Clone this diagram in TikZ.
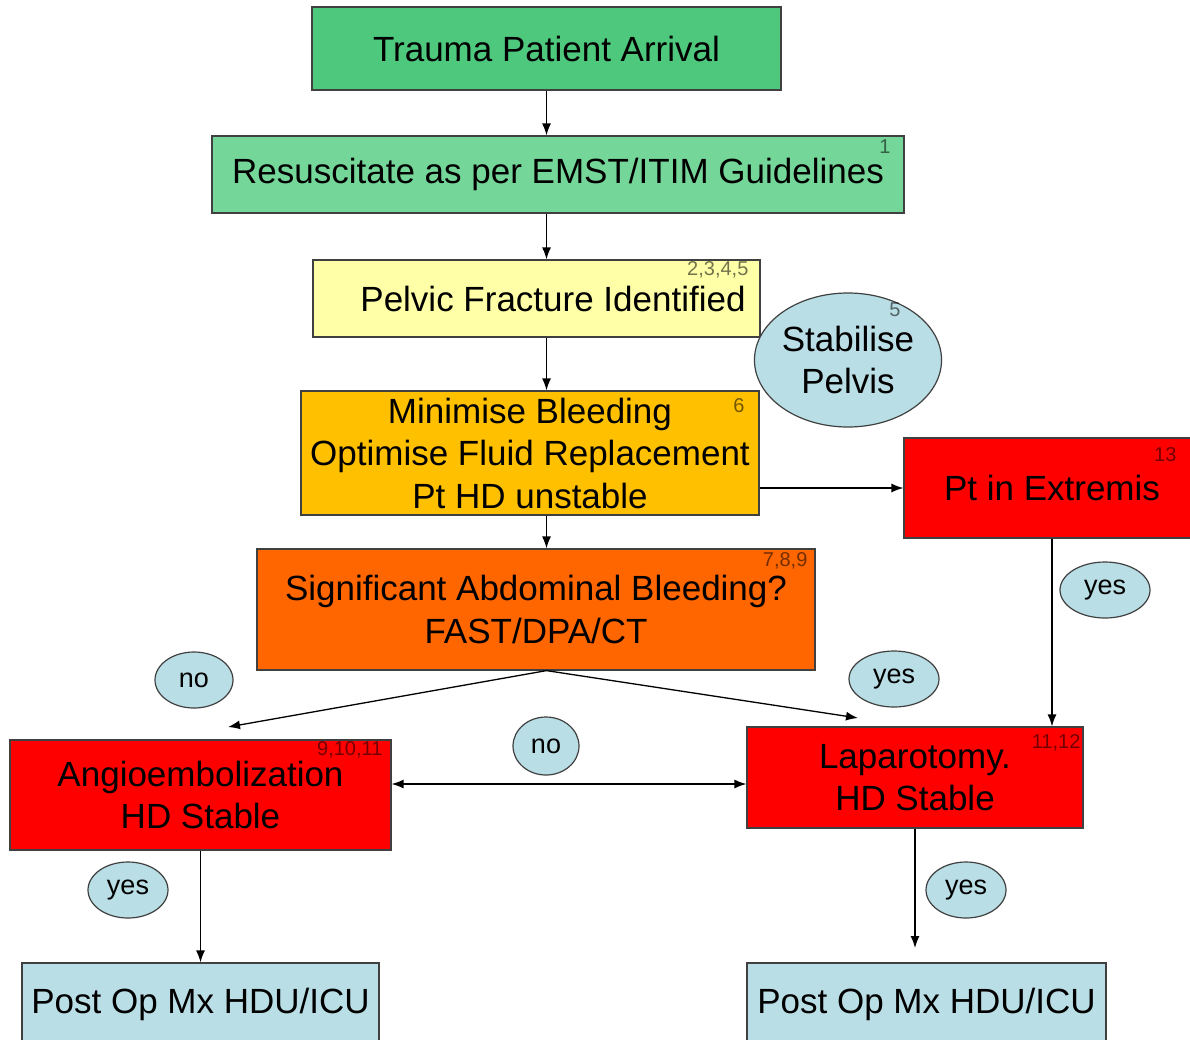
\documentclass[tikz,border=0pt]{standalone}
\usepackage{fontspec}
\setmainfont{Liberation Sans}
\usetikzlibrary{calc}
\usetikzlibrary{positioning}
\usetikzlibrary{shapes.geometric}
\usetikzlibrary{arrows.meta}
\definecolor{arrivalGreen}{RGB}{78,200,124}
\definecolor{resusGreen}{RGB}{116,214,152}
\definecolor{pelvicYellow}{RGB}{255,255,168}
\definecolor{bleedGold}{RGB}{255,192,0}
\definecolor{abdoOrange}{RGB}{255,102,0}
\definecolor{urgentRed}{RGB}{255,0,0}
\definecolor{tagBlue}{RGB}{185,222,230}
\tikzstyle{flownode} = [draw=black!75, line width=1.2pt, rectangle, inner sep=0pt, align=center, font=\fontsize{35}{42.5}\selectfont]
\tikzstyle{tagnode} = [draw=black!75, line width=1.2pt, ellipse, fill=tagBlue, inner sep=0pt, font=\fontsize{27}{30}\selectfont]
\tikzstyle{refnum} = [inner sep=0pt, anchor=north east, text opacity=0.55, font=\fontsize{20}{20}\selectfont]
\tikzstyle{flowarrow} = [-{Latex[length=12pt,width=9pt]}, line width=1.3pt]

\begin{document}
\begin{tikzpicture}[x=1pt, y=-1pt]
    \useasboundingbox (0,0) rectangle (1190,1039);

    \node[flownode, fill=arrivalGreen, minimum width=469pt, minimum height=83pt] (arrival) at (546.5,48.5) {Trauma Patient Arrival};
    \node[flownode, fill=resusGreen, minimum width=692pt, minimum height=77pt] (resus) at ($(arrival)+(11.5,126)$) {Resuscitate as per EMST/ITIM Guidelines};
    \node[flownode, fill=pelvicYellow, minimum width=447pt, minimum height=77pt] (pelvic) at ($(resus)+(-21.5,124)$) {\hspace*{33pt}Pelvic Fracture Identified};
    \node[flownode, ellipse, fill=tagBlue, minimum width=180pt, minimum height=134pt] (stabilise) at ($(pelvic)+(311.5,61.5)$) {Stabilise\\Pelvis};
    \node[flownode, fill=bleedGold, minimum width=458pt, minimum height=124pt] (minimise) at ($(pelvic)+(-6.5,154.5)$) {Minimise Bleeding\\Optimise Fluid Replacement\\Pt HD unstable};
    \node[flownode, fill=urgentRed, minimum width=296pt, minimum height=100pt] (extremis) at ($(minimise)+(522,35)$) {Pt in Extremis};
    \node[flownode, fill=abdoOrange, minimum width=558pt, minimum height=121pt] (significant) at ($(minimise)+(6,156.5)$) {Significant Abdominal Bleeding?\\FAST/DPA/CT};
    \node[flownode, fill=urgentRed, minimum width=381pt, minimum height=110pt] (angio) at ($(significant)+(-335.5,185.5)$) {Angioembolization\\HD Stable};
    \node[flownode, fill=urgentRed, minimum width=336pt, minimum height=101pt] (lap) at ($(significant)+(379,168)$) {Laparotomy.\\HD Stable};
    \node[flownode, fill=tagBlue, minimum width=357pt, minimum height=82pt] (postL) at ($(angio)+(0,209)$) {Post Op Mx HDU/ICU};
    \node[flownode, fill=tagBlue, minimum width=359pt, minimum height=82pt] (postR) at ($(lap)+(11.5,226.5)$) {Post Op Mx HDU/ICU};

    % reference numbers
    \node[refnum] (resus_ref) at ($(resus.north east)+(-14,4)$) {1};
    \node[refnum] (pelvic_ref) at ($(pelvic.north east)+(-12,2)$) {2,3,4,5};
    \node[refnum, anchor=center] (stabilise_ref) at ($(stabilise)+(47,-50)$) {5};
    \node[refnum] (minimise_ref) at ($(minimise.north east)+(-15,8)$) {6};
    \node[refnum] (extremis_ref) at ($(extremis.north east)+(-24,10)$) {13};
    \node[refnum] (significant_ref) at ($(significant.north east)+(-8,4)$) {7,8,9};
    \node[refnum] (angio_ref) at ($(angio.north east)+(-9,2)$) {9,10,11};
    \node[refnum] (lap_ref) at ($(lap.north east)+(-3,8)$) {11,12};

    % yes / no tags
    \node[tagnode, minimum width=90pt, minimum height=56pt] (extremis_yes) at ($(extremis)+(53,102)$) {yes};
    \node[tagnode, minimum width=78pt, minimum height=56pt] (left_no) at ($(significant)+(-342,70.5)$) {no};
    \node[tagnode, minimum width=90pt, minimum height=56pt] (right_yes) at ($(significant)+(358,69.5)$) {yes};
    \node[tagnode, minimum width=66pt, minimum height=58pt] (mid_no) at ($(significant)+(10,136.5)$) {no};
    \node[tagnode, minimum width=80pt, minimum height=56pt] (angio_yes) at ($(angio)+(-72.5,95)$) {yes};
    \node[tagnode, minimum width=80pt, minimum height=56pt] (lap_yes) at ($(lap)+(51,112.5)$) {yes};

    \coordinate (no_end) at (228,727);
    \coordinate (yes_end) at (858,718);
    \coordinate (link_level) at (0,784);
    \coordinate (lap_end) at (916,948);

    \draw[flowarrow] (arrival.south) -- (arrival.south |- resus.north);
    \draw[flowarrow] (arrival.south |- resus.south) -- (arrival.south |- pelvic.north);
    \draw[flowarrow] (arrival.south |- pelvic.south) -- (arrival.south |- minimise.north);
    \draw[flowarrow] (arrival.south |- minimise.south) -- (arrival.south |- significant.north);
    \draw[flowarrow] (minimise.east |- extremis.west) -- (extremis.west);
    \draw[flowarrow] (extremis.south) -- (extremis.south |- lap.north);
    \draw[flowarrow] (arrival.south |- significant.south) -- (no_end);
    \draw[flowarrow] (arrival.south |- significant.south) -- (yes_end);
    \draw[flowarrow, {Latex[length=12pt,width=9pt]}-{Latex[length=12pt,width=9pt]}] (angio.east |- link_level) -- (lap.west |- link_level);
    \draw[flowarrow] (angio.south) -- (postL.north);
    \draw[flowarrow] (lap.south) -- (lap.south |- lap_end);
\end{tikzpicture}
\end{document}
